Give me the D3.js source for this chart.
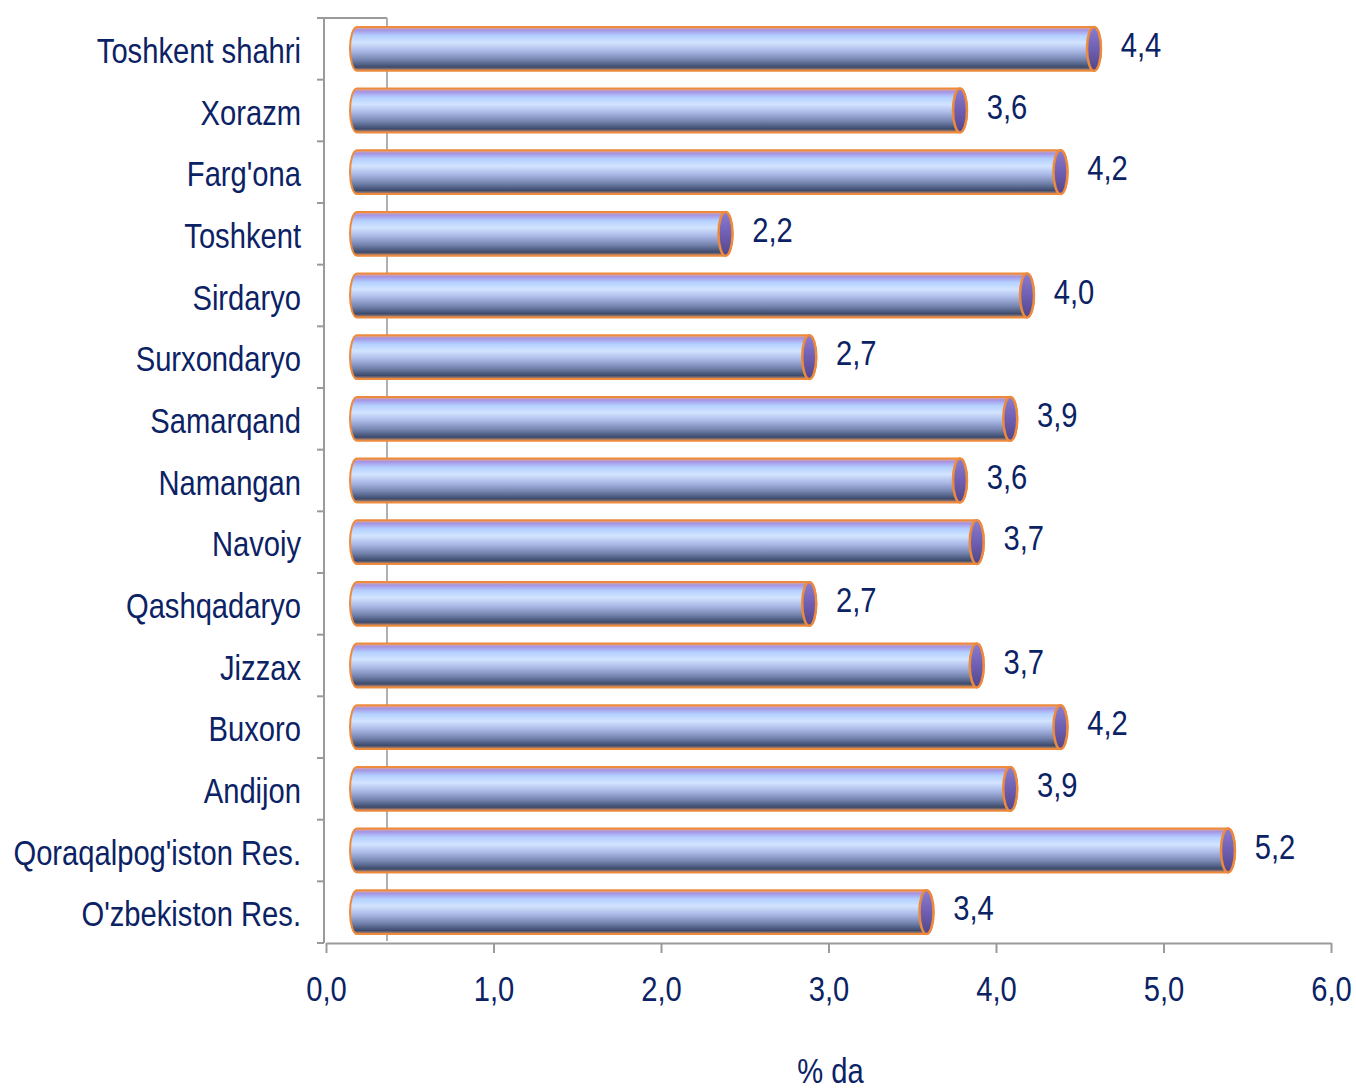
<!DOCTYPE html>
<html>
<head>
<meta charset="utf-8">
<script src="https://cdn.jsdelivr.net/npm/d3@7"></script>
<style>
  body { margin: 0; background: #fff; }
  text { font-family: "Liberation Sans", Arial, sans-serif; fill: #0b2265; }
</style>
</head>
<body>
<svg id="chart" width="1356" height="1088"></svg>
<script>
var regions = ["Toshkent shahri", "Xorazm", "Farg'ona", "Toshkent", "Sirdaryo", "Surxondaryo",
  "Samarqand", "Namangan", "Navoiy", "Qashqadaryo", "Jizzax", "Buxoro", "Andijon",
  "Qoraqalpog'iston Res.", "O'zbekiston Res."];
var values = [4.4, 3.6, 4.2, 2.2, 4.0, 2.7, 3.9, 3.6, 3.7, 2.7, 3.7, 4.2, 3.9, 5.2, 3.4];
var xTicks = [0, 1, 2, 3, 4, 5, 6];
var axisTitle = "% da";

var svg = d3.select("#chart"),
    plotLeft = 326, plotRight = 1331, plotTop = 18, plotBottom = 943,
    depth = 61,     // back wall offset
    barShift = 31,  // bars sit in the middle of the depth
    narrow = 0.81,  // squeeze to look like Arial Narrow
    fontSize = 36;

var fmt = function(v) { return d3.format(".1f")(v).replace(".", ","); };

var x = d3.scaleLinear().domain([0, 6]).range([plotLeft, plotRight]);
var y = d3.scaleBand().domain(regions).range([plotTop, plotBottom]).paddingInner(0.29).paddingOuter(0.145);
var yb = d3.scaleBand().domain(regions).range([plotTop, plotBottom]);

var defs = svg.append("defs");
var g1 = defs.append("linearGradient").attr("id", "cyl").attr("x1", 0).attr("y1", 0).attr("x2", 0).attr("y2", 1);
[[0, "#f2a77a"], [0.07, "#a494e4"], [0.2, "#b4d0ff"], [0.36, "#d2e4ff"], [0.55, "#aab8e6"],
 [0.75, "#7484ae"], [0.92, "#3c4a6c"], [1, "#d6946a"]].forEach(function(s) {
  g1.append("stop").attr("offset", s[0]).attr("stop-color", s[1]);
});
var g2 = defs.append("linearGradient").attr("id", "cap").attr("x1", 0).attr("y1", 0).attr("x2", 0).attr("y2", 1);
[[0, "#8a7cd0"], [0.5, "#6f5fb2"], [1, "#50468a"]].forEach(function(s) {
  g2.append("stop").attr("offset", s[0]).attr("stop-color", s[1]);
});

// frame: left axis, top of side wall, back wall line
svg.append("line").attr("x1", plotLeft - 2).attr("x2", plotLeft - 2).attr("y1", plotTop).attr("y2", plotBottom)
    .attr("stroke", "#9a9a9a").attr("stroke-width", 2);
svg.append("line").attr("x1", plotLeft - 2).attr("x2", plotLeft + depth).attr("y1", plotTop).attr("y2", plotTop)
    .attr("stroke", "#9a9a9a").attr("stroke-width", 2);
svg.append("line").attr("x1", plotLeft + depth).attr("x2", plotLeft + depth).attr("y1", plotTop).attr("y2", plotBottom - 2)
    .attr("stroke", "#b0b0b0").attr("stroke-width", 2);

// category ticks on left axis
var bounds = regions.map(function(r) { return yb(r); }).concat([plotBottom]);
svg.selectAll(".ctick").data(bounds).enter().append("line")
    .attr("x1", plotLeft - 9).attr("x2", plotLeft - 2)
    .attr("y1", function(d) { return d; }).attr("y2", function(d) { return d; })
    .attr("stroke", "#9a9a9a").attr("stroke-width", 2);

// bottom value axis
var xAxis = d3.axisBottom(x).tickValues(xTicks).tickSize(10).tickFormat(fmt).tickSizeOuter(0);
var ax = svg.append("g").attr("transform", "translate(0," + plotBottom + ")").call(xAxis);
ax.select(".domain").attr("stroke", "#9a9a9a").attr("stroke-width", 2);
ax.selectAll(".tick line").attr("stroke", "#9a9a9a").attr("stroke-width", 2);
ax.selectAll(".tick text").attr("y", 0).attr("dy", 0).attr("font-size", fontSize)
    .attr("transform", "translate(0,58) scale(" + narrow + ",1)");

svg.append("text").attr("text-anchor", "middle").attr("font-size", fontSize)
    .attr("transform", "translate(" + ((plotLeft + plotRight) / 2 + 2) + ",1083) scale(" + narrow + ",1)")
    .text(axisTitle);

// category labels
svg.selectAll(".clabel").data(regions).enter().append("text")
    .attr("transform", function(d) {
      return "translate(301," + (yb(d) + yb.bandwidth() / 2 + 14) + ") scale(" + narrow + ",1)";
    })
    .attr("text-anchor", "end").attr("font-size", fontSize).text(function(d) { return d; });

// cylinders
var rx = 7;
var bars = svg.selectAll(".bar").data(values).enter().append("g");
bars.append("path")
    .attr("d", function(d, i) {
      var x0 = x(0) + barShift, x1 = x(d) + barShift, yt = y(regions[i]), h = y.bandwidth(), ry = h / 2;
      return "M" + x0 + "," + yt + "L" + x1 + "," + yt +
        "A" + rx + "," + ry + " 0 0 1 " + x1 + "," + (yt + h) +
        "L" + x0 + "," + (yt + h) +
        "A" + rx + "," + ry + " 0 0 1 " + x0 + "," + yt + "Z";
    })
    .attr("fill", "url(#cyl)").attr("stroke", "#ee8a3c").attr("stroke-width", 2);
bars.append("ellipse")
    .attr("cx", function(d) { return x(d) + barShift; })
    .attr("cy", function(d, i) { return y(regions[i]) + y.bandwidth() / 2; })
    .attr("rx", rx).attr("ry", y.bandwidth() / 2)
    .attr("fill", "url(#cap)").attr("stroke", "#ee8a3c").attr("stroke-width", 2.5);

// value labels
bars.append("text")
    .attr("transform", function(d, i) {
      return "translate(" + (x(d) + barShift + 47) + "," + (yb(regions[i]) + yb.bandwidth() / 2 + 8) +
        ") scale(" + narrow + ",1)";
    })
    .attr("text-anchor", "middle").attr("font-size", fontSize)
    .text(function(d) { return fmt(d); });
</script>
</body>
</html>
